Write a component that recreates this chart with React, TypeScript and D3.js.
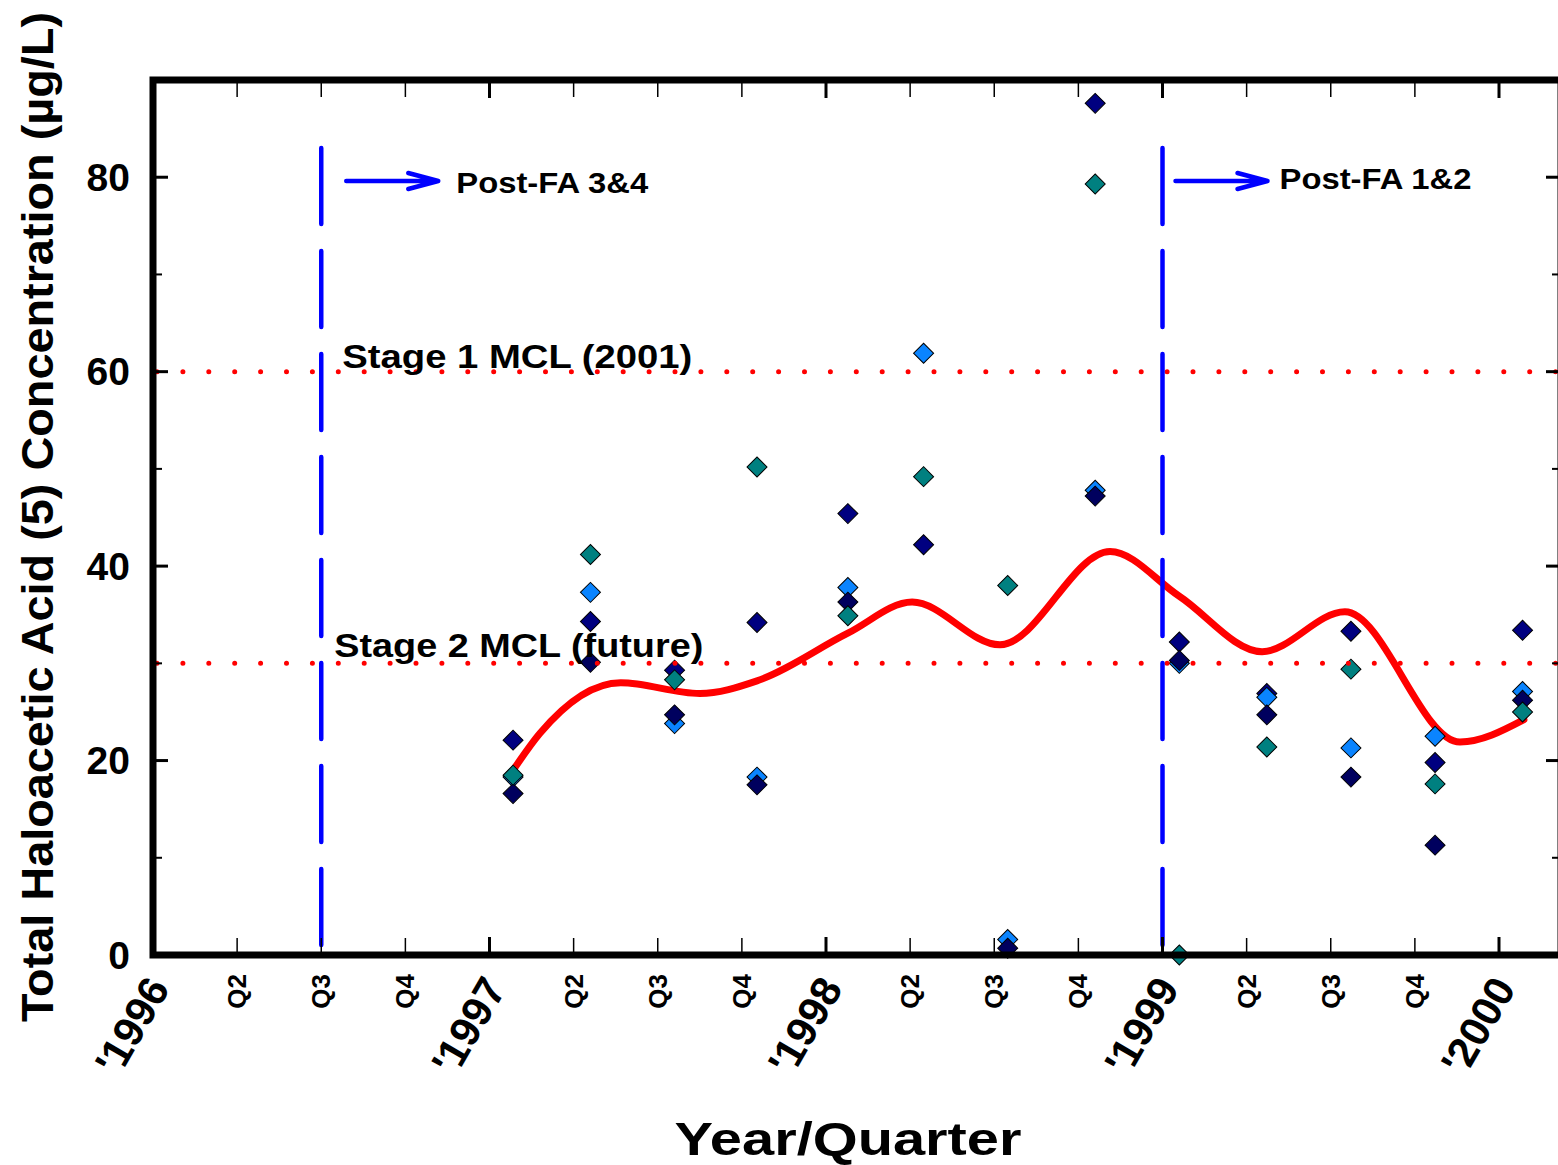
import React, { useEffect } from 'react';
import * as d3 from 'd3';

// sample dates (decimal year) and HAA5 values per sampling site (µg/L)
const sampleDates = [1997.07, 1997.3, 1997.55, 1997.795, 1998.065, 1998.29, 1998.54, 1998.8, 1999.05, 1999.31, 1999.56, 1999.81, 2000.07];
const siteNavy = [22.1, 34.3, 29.3, 34.2, 45.4, 42.2, null, 87.6, 32.2, 26.9, 33.3, 19.8, 33.4];
const siteBlue = [18.3, 37.3, 23.8, 18.3, 37.8, 61.9, 1.6, 47.8, 30.0, 26.5, 21.3, 22.5, 27.1];
const siteDark = [16.6, 30.1, 24.7, 17.5, 36.3, null, 0.7, 47.2, 30.3, 24.7, 18.3, 11.3, 26.2];
const siteTeal = [18.5, 41.2, 28.3, 50.2, 34.9, 49.2, 38.0, 79.3, 0.0, 21.4, 29.4, 17.6, 25.0];

// smoothed trend
const trendDates = [1997.07, 1997.15, 1997.39, 1997.625, 1997.795, 1998.065, 1998.256, 1998.517, 1998.844, 1999.05, 1999.296, 1999.542, 1999.884, 2000.074];
const trendValues = [19.0, 22.8, 28.0, 26.9, 28.2, 33.1, 36.3, 31.9, 41.5, 36.9, 31.2, 35.3, 21.9, 24.2];

const yearTicks = [1996, 1997, 1998, 1999, 2000];
const yearLabels = ["'1996", "'1997", "'1998", "'1999", "'2000"];
const quarterLabels = ['Q2', 'Q3', 'Q4'];
const yMajorTicks = [0, 20, 40, 60, 80];
const yMinorTicks = [10, 30, 50, 70];

const mclLevels = [60, 30];
const mclLabels = ['Stage 1 MCL (2001)', 'Stage 2 MCL (future)'];
const changeDates = [1996.5, 1999.0];
const changeLabels = ['Post-FA 3&4', 'Post-FA 1&2'];

const FONT = '"Liberation Sans", Arial, sans-serif';

export default function App() {
  useEffect(() => {
    document.body.style.margin = '0';
    document.body.style.overflow = 'hidden';
  }, []);

  const W = 1558, H = 1165;
  const left = 153, right = 1561, top = 80, bottom = 955;

  const x = d3.scaleLinear().domain([1996, 1996 + (right - left) / 336.5]).range([left, right]);
  const y = d3.scaleLinear().domain([0, 90]).range([bottom, top]);

  const quarterTicks: number[] = [];
  yearTicks.slice(0, -1).forEach(yr => [0.25, 0.5, 0.75].forEach(q => quarterTicks.push(yr + q)));

  const trendLine = d3.line<number>()
    .x((_, i) => x(trendDates[i]))
    .y(d => y(d))
    .curve(d3.curveMonotoneX);

  const square = d3.symbol().type(d3.symbolSquare).size(200)();

  const series = [
    { values: siteNavy, fill: '#000080' },
    { values: siteBlue, fill: '#0A84FF' },
    { values: siteDark, fill: '#00005E' },
    { values: siteTeal, fill: '#008080' },
  ];

  // arrow / label offsets from each change line
  const arrowOffsets = [[25, 117, 135], [13, 105, 117]];
  const arrowY = [181, 181];
  const labelY = [193, 189];

  const tickLen = 17;

  return (
    <svg width={W} height={H} style={{ position: 'absolute', left: 0, top: 0, display: 'block' }} fontFamily={FONT}>
      <rect width={W} height={H} fill="#fff" />

      {/* trend */}
      <path d={trendLine(trendValues) || ''} fill="none" stroke="#ff0000" strokeWidth={7} strokeLinecap="round" />

      {/* samples */}
      {series.map((s, si) => (
        <g key={si}>
          {s.values.map((v, i) => v == null ? null : (
            <path key={i} d={square}
              transform={`translate(${x(sampleDates[i])},${y(v)}) rotate(45)`}
              fill={s.fill} stroke="#000" strokeWidth={1} />
          ))}
        </g>
      ))}

      {/* MCL lines */}
      {mclLevels.map((lv, i) => (
        <g key={lv}>
          <line x1={left + 4} x2={right} y1={y(lv)} y2={y(lv)}
            stroke="#ff0000" strokeWidth={5} strokeLinecap="round" strokeDasharray="0 25.9" />
          <text x={i === 0 ? x(1996.5) + 21 : x(1996.5) + 13} y={y(lv) - (i === 0 ? 4 : 6)}
            fontSize={33} fontWeight="bold" fill="#000"
            textLength={i === 0 ? 350 : 369} lengthAdjust="spacingAndGlyphs">{mclLabels[i]}</text>
        </g>
      ))}

      {/* filter change markers */}
      {changeDates.map((cd, i) => {
        const cx = x(cd);
        const ay = arrowY[i];
        const [o0, o1, o2] = arrowOffsets[i];
        const ax0 = cx + o0, ax1 = cx + o1;
        return (
          <g key={cd}>
            <line x1={cx} x2={cx} y1={y(83)} y2={bottom - 4} stroke="#0000ff" strokeWidth={4.5}
              strokeLinecap="round" strokeDasharray="76 27" />
            <path d={`M${ax0},${ay}H${ax1}M${ax1 - 30},${ay - 8}L${ax1},${ay}L${ax1 - 30},${ay + 8}`}
              fill="none" stroke="#0000ff" strokeWidth={4.5} strokeLinecap="round" strokeLinejoin="round" />
            <text x={cx + o2} y={labelY[i]}
              fontSize={29} fontWeight="bold" fill="#000"
              textLength={192} lengthAdjust="spacingAndGlyphs">{changeLabels[i]}</text>
          </g>
        );
      })}

      {/* ticks */}
      {quarterTicks.map(t => (
        <g key={t}>
          <line x1={x(t)} x2={x(t)} y1={top} y2={top + tickLen} stroke="#000" strokeWidth={1.5} />
          <line x1={x(t)} x2={x(t)} y1={bottom} y2={bottom - tickLen} stroke="#000" strokeWidth={1.5} />
        </g>
      ))}
      {yearTicks.map(t => (
        <g key={t}>
          <line x1={x(t)} x2={x(t)} y1={top} y2={top + tickLen + 1} stroke="#000" strokeWidth={3} />
          <line x1={x(t)} x2={x(t)} y1={bottom} y2={bottom - tickLen - 1} stroke="#000" strokeWidth={3} />
        </g>
      ))}
      {yMajorTicks.map(t => (
        <g key={t}>
          <line x1={left} x2={left + 15} y1={y(t)} y2={y(t)} stroke="#000" strokeWidth={3} />
          <line x1={right} x2={right - 15} y1={y(t)} y2={y(t)} stroke="#000" strokeWidth={3} />
        </g>
      ))}
      {yMinorTicks.map(t => (
        <g key={t}>
          <line x1={left} x2={left + 9} y1={y(t)} y2={y(t)} stroke="#000" strokeWidth={2} />
          <line x1={right} x2={right - 9} y1={y(t)} y2={y(t)} stroke="#000" strokeWidth={2} />
        </g>
      ))}

      {/* frame */}
      <rect x={left} y={top} width={right - left} height={bottom - top} fill="none" stroke="#000" strokeWidth={7} />

      {/* y tick labels */}
      {yMajorTicks.map(t => (
        <text key={t} x={130} y={y(t)} textAnchor="end" dominantBaseline="central"
          fontSize={39} fontWeight="bold">{t}</text>
      ))}

      {/* x tick labels */}
      {quarterTicks.map((t, i) => (
        <text key={t} transform={`translate(${x(t)},${974}) rotate(-90)`} textAnchor="end"
          dominantBaseline="central" fontSize={26} fontWeight="bold">{quarterLabels[i % 3]}</text>
      ))}
      {yearTicks.map((t, i) => (
        <text key={t} transform={`translate(${x(t) + 5},${981}) rotate(-60)`} textAnchor="end"
          dominantBaseline="central" fontSize={42} fontWeight="bold">{yearLabels[i]}</text>
      ))}

      {/* axis titles */}
      <text transform={`translate(${53},${517}) rotate(-90)`} textAnchor="middle" fontSize={45}
        fontWeight="bold" textLength={1010} lengthAdjust="spacingAndGlyphs">
        Total Haloacetic Acid (5) Concentration (µg/L)
      </text>
      <text x={848} y={1155} textAnchor="middle" fontSize={47} fontWeight="bold"
        textLength={347} lengthAdjust="spacingAndGlyphs">Year/Quarter</text>
    </svg>
  );
}
